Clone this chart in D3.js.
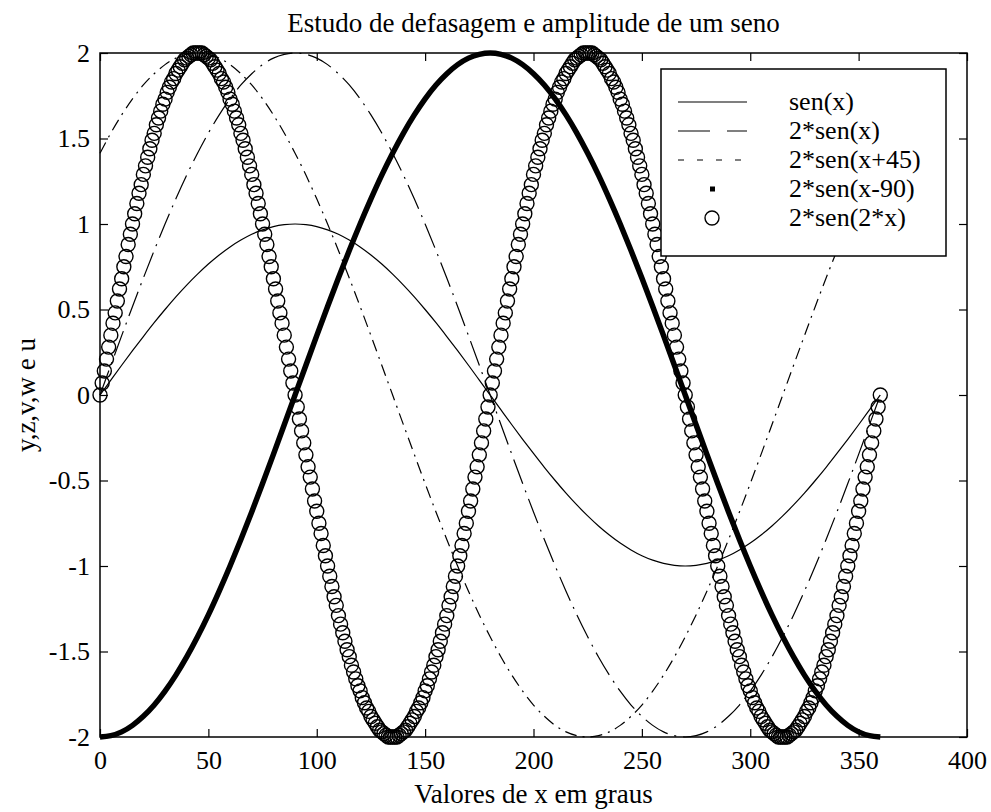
<!DOCTYPE html>
<html>
<head>
<meta charset="utf-8">
<script src="https://cdn.jsdelivr.net/npm/d3@7"></script>
<style>
  body { margin: 0; background: #fff; }
  text { font-family: "Liberation Serif", "Times New Roman", serif; fill: #000; }
</style>
</head>
<body>
<div id="chart"></div>
<script>
// eixo x: graus
var graus = d3.range(0, 361);      // passo de 1 grau (marcadores)
var graus5 = d3.range(0, 361, 5);  // passo de 5 graus (linhas)

// sen(x)
var senX = [0,.087,.174,.259,.342,.423,.5,.574,.643,.707,.766,.819,.866,.906,.94,.966,.985,.996,1,
  .996,.985,.966,.94,.906,.866,.819,.766,.707,.643,.574,.5,.423,.342,.259,.174,.087,0,
  -.087,-.174,-.259,-.342,-.423,-.5,-.574,-.643,-.707,-.766,-.819,-.866,-.906,-.94,-.966,-.985,-.996,-1,
  -.996,-.985,-.966,-.94,-.906,-.866,-.819,-.766,-.707,-.643,-.574,-.5,-.423,-.342,-.259,-.174,-.087,0];

// 2*sen(x)
var doisSenX = [0,.174,.347,.518,.684,.845,1,1.147,1.286,1.414,1.532,1.638,1.732,1.813,1.879,1.932,1.97,1.992,2,
  1.992,1.97,1.932,1.879,1.813,1.732,1.638,1.532,1.414,1.286,1.147,1,.845,.684,.518,.347,.174,0,
  -.174,-.347,-.518,-.684,-.845,-1,-1.147,-1.286,-1.414,-1.532,-1.638,-1.732,-1.813,-1.879,-1.932,-1.97,-1.992,-2,
  -1.992,-1.97,-1.932,-1.879,-1.813,-1.732,-1.638,-1.532,-1.414,-1.286,-1.147,-1,-.845,-.684,-.518,-.347,-.174,0];

// 2*sen(x+45)
var doisSenX45 = [1.414,1.532,1.638,1.732,1.813,1.879,1.932,1.97,1.992,2,
  1.992,1.97,1.932,1.879,1.813,1.732,1.638,1.532,1.414,1.286,
  1.147,1,.845,.684,.518,.347,.174,0,-.174,-.347,
  -.518,-.684,-.845,-1,-1.147,-1.286,-1.414,-1.532,-1.638,-1.732,
  -1.813,-1.879,-1.932,-1.97,-1.992,-2,-1.992,-1.97,-1.932,-1.879,
  -1.813,-1.732,-1.638,-1.532,-1.414,-1.286,-1.147,-1,-.845,-.684,
  -.518,-.347,-.174,0,.174,.347,.518,.684,.845,1,
  1.147,1.286,1.414];

// 2*sen(x-90)
var doisSenX90 = [-2,-1.992,-1.97,-1.932,-1.879,-1.813,-1.732,-1.638,-1.532,-1.414,-1.286,-1.147,-1,-.845,-.684,-.518,-.347,-.174,0,
  .174,.347,.518,.684,.845,1,1.147,1.286,1.414,1.532,1.638,1.732,1.813,1.879,1.932,1.97,1.992,2,
  1.992,1.97,1.932,1.879,1.813,1.732,1.638,1.532,1.414,1.286,1.147,1,.845,.684,.518,.347,.174,0,
  -.174,-.347,-.518,-.684,-.845,-1,-1.147,-1.286,-1.414,-1.532,-1.638,-1.732,-1.813,-1.879,-1.932,-1.97,-1.992,-2];

// 2*sen(2*x), um valor por grau
var doisSen2X = [
  0,.07,.14,.21,.28,.35,.42,.48,.55,.62,
  .68,.75,.81,.88,.94,1,1.06,1.12,1.18,1.23,
  1.29,1.34,1.39,1.44,1.49,1.53,1.58,1.62,1.66,1.7,
  1.73,1.77,1.8,1.83,1.85,1.88,1.9,1.92,1.94,1.96,
  1.97,1.98,1.99,2,2,2,2,2,1.99,1.98,
  1.97,1.96,1.94,1.92,1.9,1.88,1.85,1.83,1.8,1.77,
  1.73,1.7,1.66,1.62,1.58,1.53,1.49,1.44,1.39,1.34,
  1.29,1.23,1.18,1.12,1.06,1,.94,.88,.81,.75,
  .68,.62,.55,.48,.42,.35,.28,.21,.14,.07,
  0,-.07,-.14,-.21,-.28,-.35,-.42,-.48,-.55,-.62,
  -.68,-.75,-.81,-.88,-.94,-1,-1.06,-1.12,-1.18,-1.23,
  -1.29,-1.34,-1.39,-1.44,-1.49,-1.53,-1.58,-1.62,-1.66,-1.7,
  -1.73,-1.77,-1.8,-1.83,-1.85,-1.88,-1.9,-1.92,-1.94,-1.96,
  -1.97,-1.98,-1.99,-2,-2,-2,-2,-2,-1.99,-1.98,
  -1.97,-1.96,-1.94,-1.92,-1.9,-1.88,-1.85,-1.83,-1.8,-1.77,
  -1.73,-1.7,-1.66,-1.62,-1.58,-1.53,-1.49,-1.44,-1.39,-1.34,
  -1.29,-1.23,-1.18,-1.12,-1.06,-1,-.94,-.88,-.81,-.75,
  -.68,-.62,-.55,-.48,-.42,-.35,-.28,-.21,-.14,-.07,
  0,.07,.14,.21,.28,.35,.42,.48,.55,.62,
  .68,.75,.81,.88,.94,1,1.06,1.12,1.18,1.23,
  1.29,1.34,1.39,1.44,1.49,1.53,1.58,1.62,1.66,1.7,
  1.73,1.77,1.8,1.83,1.85,1.88,1.9,1.92,1.94,1.96,
  1.97,1.98,1.99,2,2,2,2,2,1.99,1.98,
  1.97,1.96,1.94,1.92,1.9,1.88,1.85,1.83,1.8,1.77,
  1.73,1.7,1.66,1.62,1.58,1.53,1.49,1.44,1.39,1.34,
  1.29,1.23,1.18,1.12,1.06,1,.94,.88,.81,.75,
  .68,.62,.55,.48,.42,.35,.28,.21,.14,.07,
  0,-.07,-.14,-.21,-.28,-.35,-.42,-.48,-.55,-.62,
  -.68,-.75,-.81,-.88,-.94,-1,-1.06,-1.12,-1.18,-1.23,
  -1.29,-1.34,-1.39,-1.44,-1.49,-1.53,-1.58,-1.62,-1.66,-1.7,
  -1.73,-1.77,-1.8,-1.83,-1.85,-1.88,-1.9,-1.92,-1.94,-1.96,
  -1.97,-1.98,-1.99,-2,-2,-2,-2,-2,-1.99,-1.98,
  -1.97,-1.96,-1.94,-1.92,-1.9,-1.88,-1.85,-1.83,-1.8,-1.77,
  -1.73,-1.7,-1.66,-1.62,-1.58,-1.53,-1.49,-1.44,-1.39,-1.34,
  -1.29,-1.23,-1.18,-1.12,-1.06,-1,-.94,-.88,-.81,-.75,
  -.68,-.62,-.55,-.48,-.42,-.35,-.28,-.21,-.14,-.07,
  0];

var xTicks = [0, 50, 100, 150, 200, 250, 300, 350, 400];
var yTicks = [-2, -1.5, -1, -0.5, 0, 0.5, 1, 1.5, 2];
var yTickLabels = ["-2", "-1.5", "-1", "-0.5", "0", "0.5", "1", "1.5", "2"];
var legendLabels = ["sen(x)", "2*sen(x)", "2*sen(x+45)", "2*sen(x-90)", "2*sen(2*x)"];

// dimensoes
var margin = {top: 53, right: 24, bottom: 75, left: 100},
    width = 991 - margin.left - margin.right,
    height = 812 - margin.top - margin.bottom;

var svg = d3.select("#chart")
  .append("svg")
    .attr("width", 991)
    .attr("height", 812)
  .append("g")
    .attr("transform", "translate(" + margin.left + "," + margin.top + ")");

var x = d3.scaleLinear().domain([0, 400]).range([0, width]);
var y = d3.scaleLinear().domain([-2, 2]).range([height, 0]);

// eixos (ticks para dentro, como no MATLAB)
var fmtY = function(d) { return yTickLabels[yTicks.indexOf(d)]; };

svg.append("g")
  .attr("class", "axis")
  .attr("transform", "translate(0," + height + ")")
  .call(d3.axisBottom(x).tickValues(xTicks).tickSize(-8).tickPadding(14));
svg.append("g")
  .attr("class", "axis")
  .call(d3.axisLeft(y).tickValues(yTicks).tickFormat(fmtY).tickSize(-8).tickPadding(10));
svg.append("g")
  .attr("class", "axis")
  .call(d3.axisTop(x).tickValues(xTicks).tickSize(-8).tickFormat(""));
svg.append("g")
  .attr("class", "axis")
  .attr("transform", "translate(" + width + ",0)")
  .call(d3.axisRight(y).tickValues(yTicks).tickSize(-8).tickFormat(""));

svg.selectAll(".axis .domain").remove();
svg.selectAll(".axis line").attr("stroke", "#000").attr("stroke-width", 1.2);
svg.selectAll(".axis text")
  .style("font-family", "'Liberation Serif', serif")
  .style("font-size", "26px")
  .attr("fill", "#000");

// moldura
svg.append("rect")
  .attr("width", width)
  .attr("height", height)
  .attr("fill", "none")
  .attr("stroke", "#000")
  .attr("stroke-width", 1.5);

// linhas
var line = d3.line()
  .x(function(d, i) { return x(graus5[i]); })
  .y(function(d) { return y(d); })
  .curve(d3.curveNatural);

svg.append("path").datum(senX)
  .attr("d", line).attr("fill", "none")
  .attr("stroke", "#000").attr("stroke-width", 1.2);

svg.append("path").datum(doisSenX)
  .attr("d", line).attr("fill", "none")
  .attr("stroke", "#000").attr("stroke-width", 1.2)
  .attr("stroke-dasharray", "26,7,2,7");

svg.append("path").datum(doisSenX45)
  .attr("d", line).attr("fill", "none")
  .attr("stroke", "#000").attr("stroke-width", 1.2)
  .attr("stroke-dasharray", "12,6,2,6");

svg.append("path").datum(doisSenX90)
  .attr("d", line).attr("fill", "none")
  .attr("stroke", "#000").attr("stroke-width", 5.5);

// circulos
svg.selectAll("circle.u")
  .data(doisSen2X)
  .enter()
  .append("circle")
    .attr("class", "u")
    .attr("cx", function(d, i) { return x(graus[i]); })
    .attr("cy", function(d) { return y(d); })
    .attr("r", 7)
    .attr("fill", "none")
    .attr("stroke", "#000")
    .attr("stroke-width", 1.4);

// legenda
var leg = svg.append("g").attr("transform", "translate(" + (661 - margin.left) + "," + (69 - margin.top) + ")");
leg.append("rect")
  .attr("width", 285).attr("height", 187)
  .attr("fill", "#fff").attr("stroke", "#000").attr("stroke-width", 1.5);

var rowY = function(i) { return 33 + i * 29; };
var dashes = [null, "32,17", "6,13,6,13", null, null];

legendLabels.forEach(function(lbl, i) {
  if (i < 3) {
    leg.append("line")
      .attr("x1", 17).attr("x2", 86)
      .attr("y1", rowY(i)).attr("y2", rowY(i))
      .attr("stroke", "#000").attr("stroke-width", 1.2)
      .attr("stroke-dasharray", dashes[i]);
  } else if (i === 3) {
    leg.append("rect")
      .attr("x", 49).attr("y", rowY(i) - 2.5)
      .attr("width", 5).attr("height", 5).attr("fill", "#000");
  } else {
    leg.append("circle")
      .attr("cx", 51).attr("cy", rowY(i)).attr("r", 7)
      .attr("fill", "none").attr("stroke", "#000").attr("stroke-width", 1.4);
  }
  leg.append("text")
    .attr("x", 128).attr("y", rowY(i))
    .attr("dy", "0.32em")
    .style("font-size", "26px")
    .text(lbl);
});

// titulos
svg.append("text")
  .attr("x", width / 2).attr("y", 32 - margin.top)
  .attr("text-anchor", "middle")
  .style("font-size", "27px")
  .text("Estudo de defasagem e amplitude de um seno");

svg.append("text")
  .attr("x", width / 2).attr("y", 803 - margin.top)
  .attr("text-anchor", "middle")
  .style("font-size", "27px")
  .text("Valores de x em graus");

svg.append("text")
  .attr("transform", "translate(" + (35 - margin.left) + "," + (height / 2) + ")rotate(-90)")
  .attr("text-anchor", "middle")
  .style("font-size", "27px")
  .text("y,z,v,w e u");
</script>
</body>
</html>
